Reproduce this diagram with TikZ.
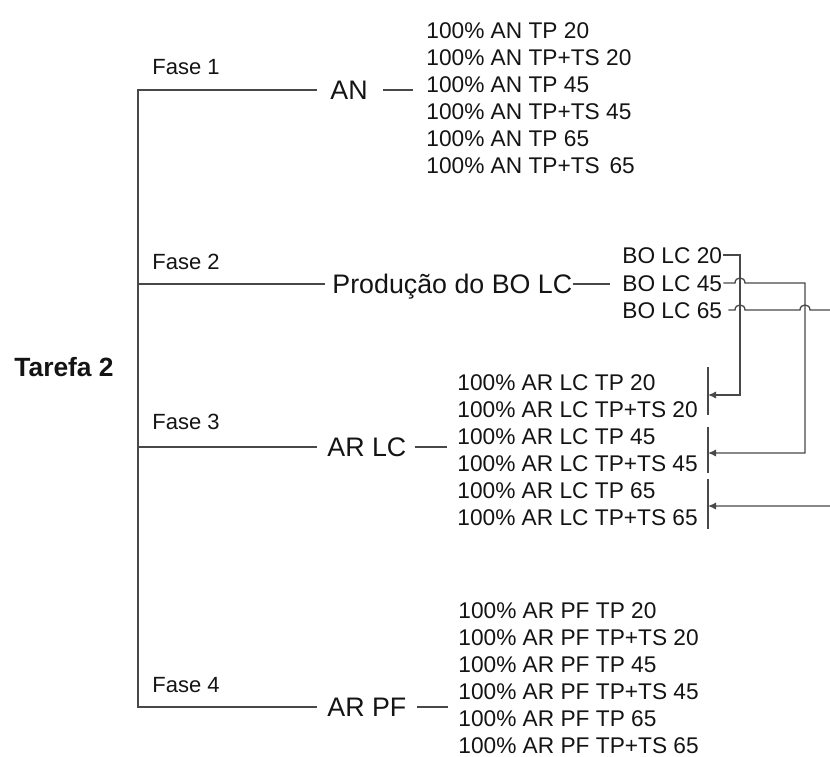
\documentclass[tikz,border=0pt]{standalone}
\usepackage{fontspec}
\setmainfont{Liberation Sans}
\usetikzlibrary{arrows.meta}
\definecolor{lncol}{RGB}{72,72,72}
\definecolor{txtcol}{RGB}{20,20,20}
\tikzset{
  ln/.style={draw=lncol, line width=0.65pt},
  arr/.style={ln, -{Latex[length=4pt,width=3.6pt]}},
  item/.style={anchor=west, inner sep=0pt, text=txtcol,
    font=\fontsize{11.35}{13}\selectfont, text height=8.13pt, text depth=0pt},
  lbl/.style={item, font=\fontsize{13.4}{16}\selectfont, text height=9.6pt},
  fase/.style={item, font=\fontsize{11}{13}\selectfont, text height=7.9pt},
  root/.style={item, font=\bfseries\fontsize{13.2}{16}\selectfont, text height=9.45pt},
}
\begin{document}
\begin{tikzpicture}[x=0.5pt,y=-0.5pt]
\useasboundingbox (0,0) rectangle (830,756);
\clip (0,0) rectangle (830,756);

% root and phase labels
\node[root] (task) at (14,367) {Tarefa 2};
\node[fase] (f1) at (152,67) {Fase 1};
\node[fase] (f2) at (152,262) {Fase 2};
\node[fase] (f3) at (152,422) {Fase 3};
\node[fase] (f4) at (152,685) {Fase 4};

% main labels
\node[lbl] (an) at (330,90) {AN};
\node[lbl] (prod) at (332,284) {Produção do BO LC};
\node[lbl] (arlc) at (327,447) {AR LC};
\node[lbl] (arpf) at (327,707) {AR PF};

% lists
\foreach \t [count=\i] in {TP 20, TP+TS 20, TP 45, TP+TS 45, TP 65, TP+TS\hspace{0.15em} 65}
  \node[item] (an\i) at (426,{30+27*(\i-1)}) {100\% AN \t};
\foreach \t [count=\i] in {TP 20, TP+TS 20, TP 45, TP+TS 45, TP 65, TP+TS 65}
  \node[item] (lc\i) at (457,{382+27*(\i-1)}) {100\% AR LC \t};
\foreach \t [count=\i] in {TP 20, TP+TS 20, TP 45, TP+TS 45, TP 65, TP+TS 65}
  \node[item] (pf\i) at (458,{610+27*(\i-1)}) {100\% AR PF \t};
\node[item] (bo20) at (622,255) {BO LC 20};
\node[item] (bo45) at (622,283) {BO LC 45};
\node[item] (bo65) at (622,310) {BO LC 65};

% trunk
\coordinate (t1) at (138,90);
\coordinate (t2) at (138,284);
\coordinate (t3) at (138,447);
\coordinate (t4) at (138,707);
\draw[ln] ([xshift=-6.5pt]an.west) -- (t1) -- (t4) -- ([xshift=-5pt]arpf.west);
\draw[ln] (t2) -- ([xshift=-3.5pt]prod.west);
\draw[ln] (t3) -- ([xshift=-5pt]arlc.west);

% short links to lists
\draw[ln, shorten <=7.5pt, shorten >=6.5pt] (an.east) -- (an.east -| an1.west);
\draw[ln, shorten <=0pt, shorten >=6pt] (prod.east) -- (prod.east -| bo45.west);
\draw[ln, shorten <=4pt, shorten >=5pt] (arlc.east) -- (arlc.east -| lc1.west);
\draw[ln, shorten <=5pt, shorten >=5pt] (arpf.east) -- (arpf.east -| pf1.west);

% brackets next to AR LC list
\coordinate (b1) at (708,395);
\coordinate (b2) at (708,453);
\coordinate (b3) at (708,506);
\draw[ln] (708,367) -- (708,415);
\draw[ln] (708,427) -- (708,473);
\draw[ln] (708,479) -- (708,529);

% BO connectors with line hops
\coordinate (v1) at (740,255);
\coordinate (v2) at (805,283);
\draw[arr] ([xshift=0.5pt]bo20.east) -- (v1) -- (v1 |- b1) -- (b1);
\draw[arr] ([xshift=0.5pt]bo45.east) -- (735,283)
  .. controls (735,276.3) and (745,276.3) .. (745,283)
  -- (v2) -- (v2 |- b2) -- (b2);
\draw[arr] ([xshift=3pt]bo65.east) -- (735,310)
  .. controls (735,303.3) and (745,303.3) .. (745,310)
  -- (800,310) .. controls (800,303.3) and (810,303.3) .. (810,310)
  -- (845,310) -- (845,506) -- (b3);
\end{tikzpicture}
\end{document}
